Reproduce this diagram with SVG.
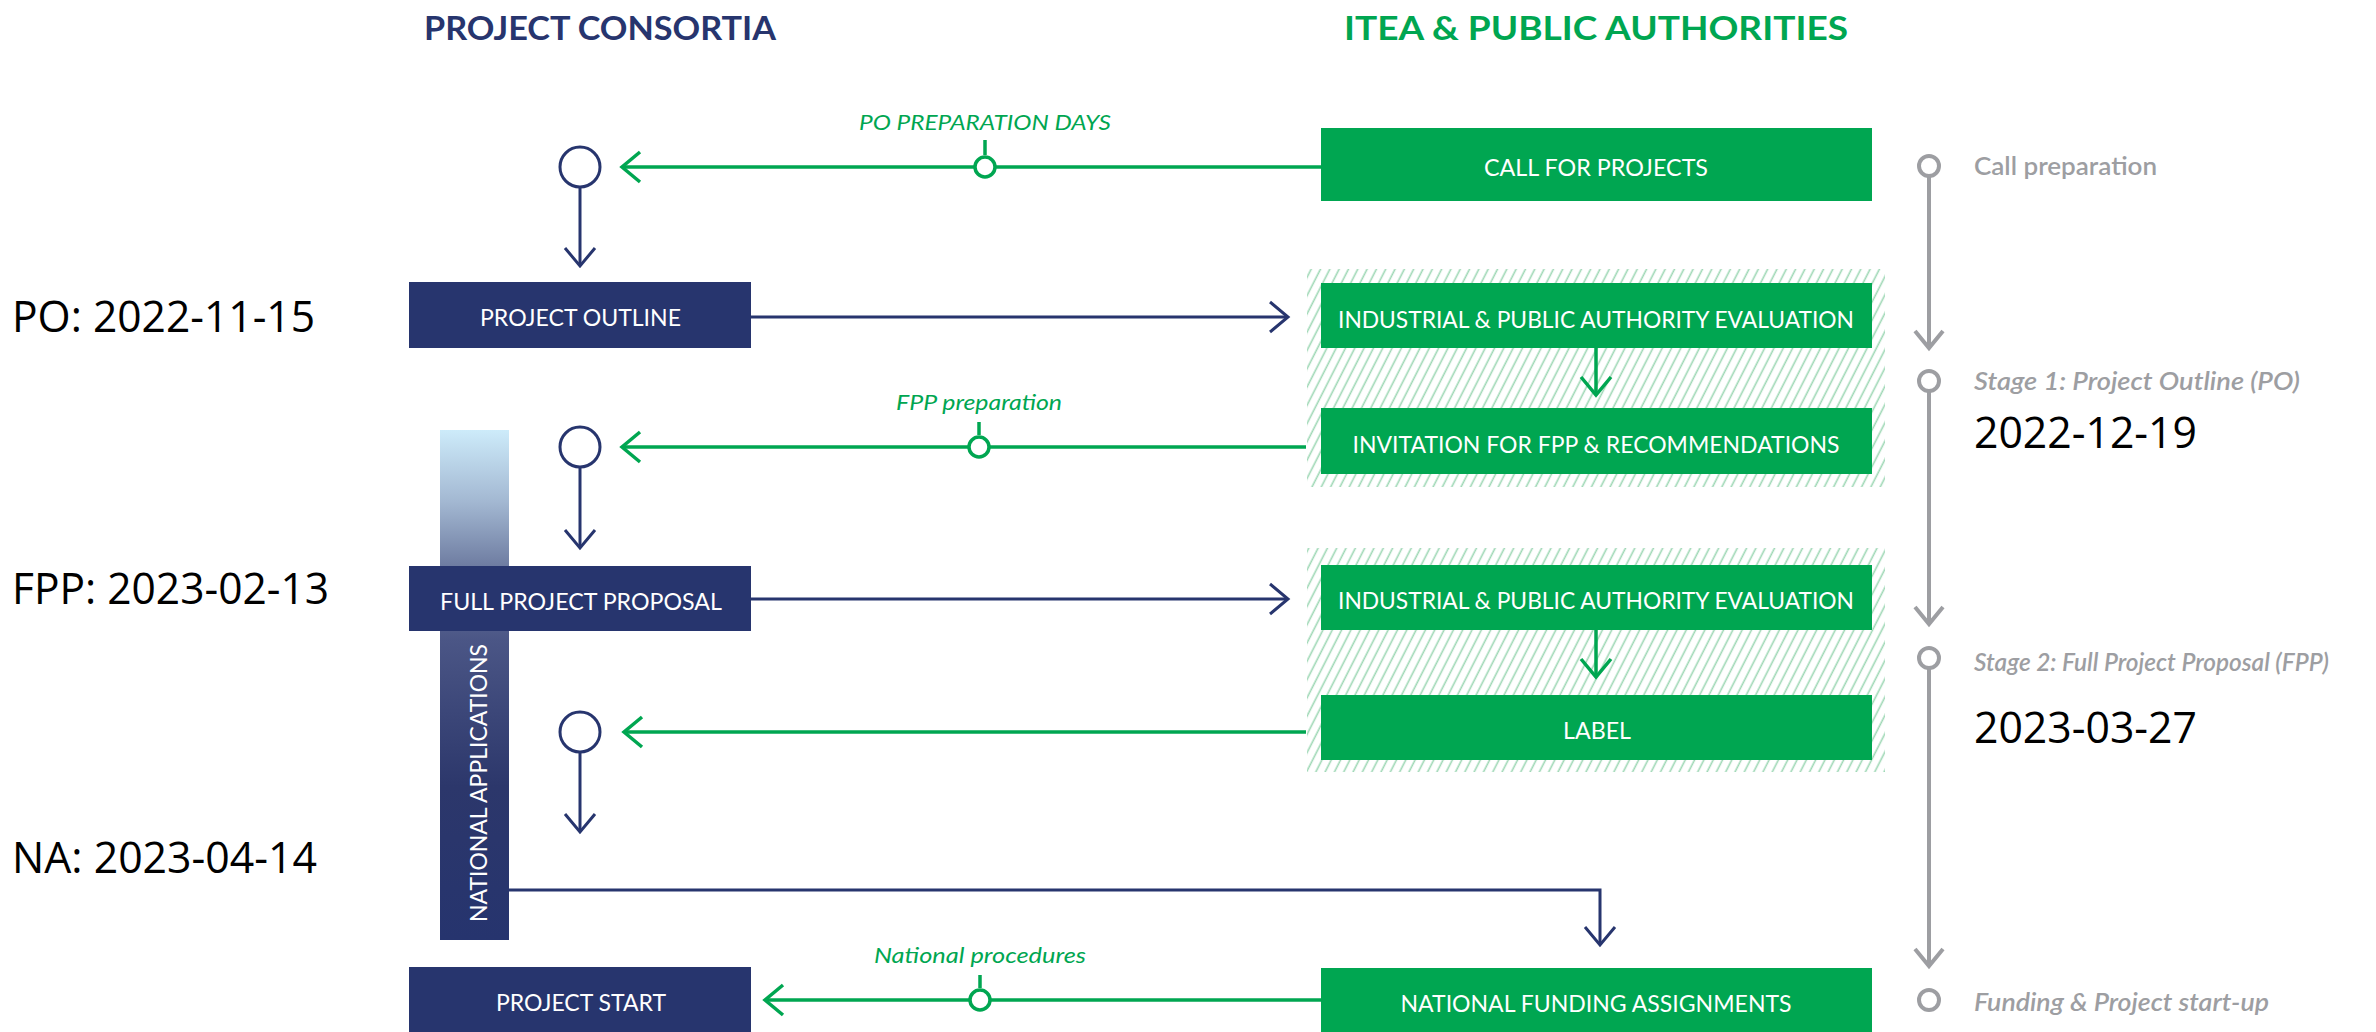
<svg xmlns="http://www.w3.org/2000/svg" width="2376" height="1032" viewBox="0 0 2376 1032">
<defs>
<style>
.navy{fill:#27356e}
.green{fill:#00a651}
.boxtxt{font-family:Lato,"Liberation Sans",sans-serif;font-size:23px;fill:#ffffff;text-anchor:middle}
.title{font-family:Lato,"Liberation Sans",sans-serif;font-weight:700;font-size:33px;text-anchor:middle}
.lbl{font-family:Lato,"Liberation Sans",sans-serif;font-style:italic;font-size:22px;fill:#00a651;text-anchor:middle}
.gray{font-family:Lato,"Liberation Sans",sans-serif;font-size:24px;fill:#9d9ea2;font-weight:600}
.it{font-style:italic}
.date{font-family:"Open Sans","Liberation Sans",sans-serif;font-size:44px;fill:#000000}
.ln-navy{stroke:#27356e;stroke-width:3;fill:none}
.ln-green{stroke:#00a651;stroke-width:3.5;fill:none}
.ln-gray{stroke:#9d9ea2;stroke-width:4;fill:none}
.node-c{fill:#ffffff;stroke:#27356e;stroke-width:3}
.tick-c{fill:#ffffff;stroke:#00a651;stroke-width:3.5}
.gray-c{fill:#ffffff;stroke:#9d9ea2;stroke-width:4}
.hatch{fill:url(#hatch)}
</style>
<pattern id="hatch" width="8.3" height="10" patternUnits="userSpaceOnUse" patternTransform="rotate(27)">
<line x1="4" y1="-1" x2="4" y2="11" stroke="#9fd8b6" stroke-width="1.6"/>
</pattern>
<linearGradient id="naGrad" x1="0" y1="430" x2="0" y2="940" gradientUnits="userSpaceOnUse">
<stop offset="0" stop-color="#cdebfa"/>
<stop offset="0.14" stop-color="#a3b8d2"/>
<stop offset="0.27" stop-color="#6d7ba0"/>
<stop offset="0.41" stop-color="#4b5686"/>
<stop offset="0.7" stop-color="#2c376b"/>
<stop offset="1" stop-color="#26346e"/>
</linearGradient>
<marker id="ah-navy" viewBox="-3 -3 25 36" markerWidth="25" markerHeight="36" refX="18" refY="15" orient="auto" markerUnits="userSpaceOnUse">
<path d="M0,0 L18,15 L0,30" fill="none" stroke="#27356e" stroke-width="3"/>
</marker>
<marker id="ah-green" viewBox="-3 -3 25 36" markerWidth="25" markerHeight="36" refX="18" refY="15" orient="auto" markerUnits="userSpaceOnUse">
<path d="M0,0 L18,15 L0,30" fill="none" stroke="#00a651" stroke-width="3.5"/>
</marker>
<marker id="ah-gray" viewBox="-3 -3 24 34" markerWidth="24" markerHeight="34" refX="17" refY="14" orient="auto" markerUnits="userSpaceOnUse">
<path d="M0,0 L17,14 L0,28" fill="none" stroke="#9d9ea2" stroke-width="4"/>
</marker>
</defs>

<rect width="2376" height="1032" fill="#ffffff"/>

<g id="titles">
<text class="title" x="600" y="40" fill="#27356e" textLength="352" lengthAdjust="spacingAndGlyphs">PROJECT CONSORTIA</text>
<text class="title" x="1596" y="40" fill="#00a651" textLength="504" lengthAdjust="spacingAndGlyphs">ITEA &amp; PUBLIC AUTHORITIES</text>
</g>

<g id="hatch-areas">
<rect id="stage1-area" class="hatch" x="1307" y="269" width="578" height="218"/>
<rect id="stage2-area" class="hatch" x="1307" y="548" width="578" height="224"/>
</g>

<g id="node-na-bar">
<rect x="440" y="430" width="69" height="510" fill="url(#naGrad)"/>
<text class="boxtxt" transform="translate(487,783) rotate(-90)" x="0" y="0" font-size="24.5" textLength="278" lengthAdjust="spacingAndGlyphs">NATIONAL APPLICATIONS</text>
</g>

<g id="connectors">
<path class="ln-green" d="M1321,167 H622" marker-end="url(#ah-green)"/>
<path class="ln-navy" d="M580,188 V266" marker-end="url(#ah-navy)"/>
<path class="ln-navy" d="M751,317 H1288" marker-end="url(#ah-navy)"/>
<path class="ln-green" d="M1596,348 V395" marker-end="url(#ah-green)"/>
<path class="ln-green" d="M1306,447 H622" marker-end="url(#ah-green)"/>
<path class="ln-navy" d="M580,468 V548" marker-end="url(#ah-navy)"/>
<path class="ln-navy" d="M751,599 H1288" marker-end="url(#ah-navy)"/>
<path class="ln-green" d="M1596,630 V677" marker-end="url(#ah-green)"/>
<path class="ln-green" d="M1306,732 H624" marker-end="url(#ah-green)"/>
<path class="ln-navy" d="M580,753 V832" marker-end="url(#ah-navy)"/>
<path class="ln-navy" d="M509,890 H1600 V945" marker-end="url(#ah-navy)"/>
<path class="ln-green" d="M1321,1000 H765" marker-end="url(#ah-green)"/>
<path class="ln-gray" d="M1929,176 V348" marker-end="url(#ah-gray)"/>
<path class="ln-gray" d="M1929,391 V624" marker-end="url(#ah-gray)"/>
<path class="ln-gray" d="M1929,668 V966" marker-end="url(#ah-gray)"/>
<path class="ln-green" d="M985,140 V155"/>
<path class="ln-green" d="M979,422 V435"/>
<path class="ln-green" d="M980,975 V988"/>
<circle class="tick-c" cx="985" cy="167" r="10"/>
<circle class="tick-c" cx="979" cy="447" r="10"/>
<circle class="tick-c" cx="980" cy="1000" r="10"/>
<text class="lbl" x="985" y="130" textLength="252" lengthAdjust="spacingAndGlyphs">PO PREPARATION DAYS</text>
<text class="lbl" x="979" y="410" textLength="166" lengthAdjust="spacingAndGlyphs">FPP preparation</text>
<text class="lbl" x="980" y="963" textLength="212" lengthAdjust="spacingAndGlyphs">National procedures</text>
</g>

<g id="junctions">
<circle id="j1" class="node-c" cx="580" cy="167" r="20"/>
<circle id="j2" class="node-c" cx="580" cy="447" r="20"/>
<circle id="j3" class="node-c" cx="580" cy="732" r="20"/>
</g>

<g id="node-project-outline">
<rect class="navy" x="409" y="282" width="342" height="66"/>
<text class="boxtxt" x="580.5" y="326" textLength="201" lengthAdjust="spacingAndGlyphs">PROJECT OUTLINE</text>
</g>
<g id="node-full-project-proposal">
<rect class="navy" x="409" y="566" width="342" height="65"/>
<text class="boxtxt" x="581" y="610" textLength="282" lengthAdjust="spacingAndGlyphs">FULL PROJECT PROPOSAL</text>
</g>
<g id="node-project-start">
<rect class="navy" x="409" y="967" width="342" height="66"/>
<text class="boxtxt" x="581" y="1011" textLength="170" lengthAdjust="spacingAndGlyphs">PROJECT START</text>
</g>

<g id="node-call-for-projects">
<rect class="green" x="1321" y="128" width="551" height="73"/>
<text class="boxtxt" x="1596" y="176" textLength="224" lengthAdjust="spacingAndGlyphs">CALL FOR PROJECTS</text>
</g>
<g id="node-evaluation-1">
<rect class="green" x="1321" y="283" width="551" height="65"/>
<text class="boxtxt" x="1596" y="327.5" textLength="516" lengthAdjust="spacingAndGlyphs">INDUSTRIAL &amp; PUBLIC AUTHORITY EVALUATION</text>
</g>
<g id="node-invitation">
<rect class="green" x="1321" y="408" width="551" height="66"/>
<text class="boxtxt" x="1596" y="452.5" textLength="487" lengthAdjust="spacingAndGlyphs">INVITATION FOR FPP &amp; RECOMMENDATIONS</text>
</g>
<g id="node-evaluation-2">
<rect class="green" x="1321" y="565" width="551" height="65"/>
<text class="boxtxt" x="1596" y="609" textLength="516" lengthAdjust="spacingAndGlyphs">INDUSTRIAL &amp; PUBLIC AUTHORITY EVALUATION</text>
</g>
<g id="node-label">
<rect class="green" x="1321" y="695" width="551" height="65"/>
<text class="boxtxt" x="1597" y="739" textLength="68" lengthAdjust="spacingAndGlyphs">LABEL</text>
</g>
<g id="node-national-funding">
<rect class="green" x="1321" y="968" width="551" height="65"/>
<text class="boxtxt" x="1596" y="1011.5" textLength="391" lengthAdjust="spacingAndGlyphs">NATIONAL FUNDING ASSIGNMENTS</text>
</g>

<g id="timeline">
<circle class="gray-c" cx="1929" cy="166" r="10"/>
<circle class="gray-c" cx="1929" cy="381" r="10"/>
<circle class="gray-c" cx="1929" cy="658" r="10"/>
<circle class="gray-c" cx="1929" cy="1000" r="10"/>
<text class="gray" x="1974" y="175" textLength="183" lengthAdjust="spacingAndGlyphs">Call preparation</text>
<text class="gray it" x="1974" y="390" textLength="326" lengthAdjust="spacingAndGlyphs">Stage 1: Project Outline (PO)</text>
<text class="gray it" x="1974" y="671" textLength="355" lengthAdjust="spacingAndGlyphs">Stage 2: Full Project Proposal (FPP)</text>
<text class="gray it" x="1974" y="1011" textLength="295" lengthAdjust="spacingAndGlyphs">Funding &amp; Project start-up</text>
</g>

<g id="dates">
<text class="date" x="12" y="332" textLength="303" lengthAdjust="spacingAndGlyphs">PO: 2022-11-15</text>
<text class="date" x="12" y="604" textLength="317" lengthAdjust="spacingAndGlyphs">FPP: 2023-02-13</text>
<text class="date" x="12" y="873" textLength="305" lengthAdjust="spacingAndGlyphs">NA: 2023-04-14</text>
<text class="date" x="1974" y="448" textLength="223" lengthAdjust="spacingAndGlyphs">2022-12-19</text>
<text class="date" x="1974" y="743" textLength="223" lengthAdjust="spacingAndGlyphs">2023-03-27</text>
</g>
</svg>
